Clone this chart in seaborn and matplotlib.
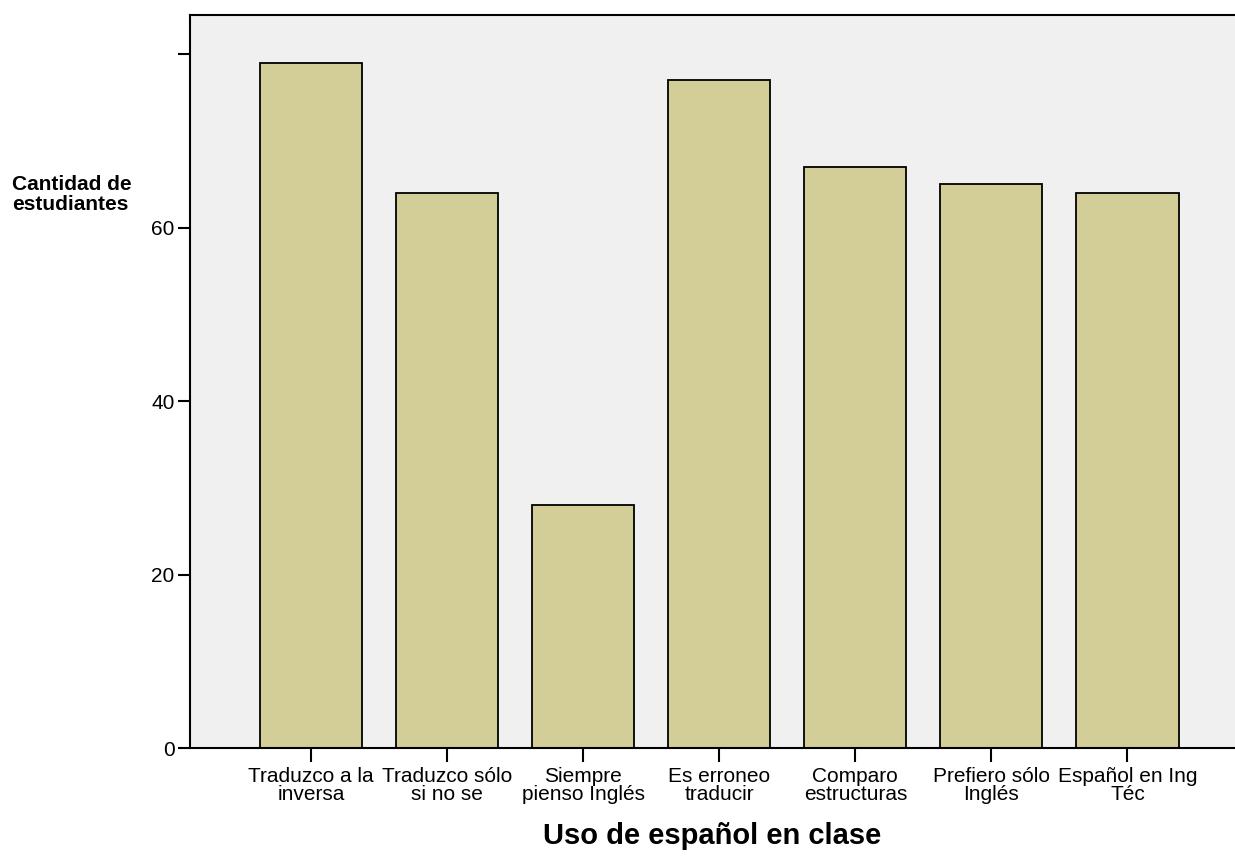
import matplotlib
matplotlib.use("Agg")
import matplotlib.pyplot as plt
import seaborn as sns
import pandas as pd

categories = ["Traduzco a la\ninversa", "Traduzco sólo\nsi no se", "Siempre\npienso Inglés",
              "Es erroneo\ntraducir", "Comparo\nestructuras", "Prefiero sólo\nInglés",
              "Español en Ing\nTéc"]
counts = [79, 64, 28, 77, 67, 65, 64]
yticks = [0, 20, 40, 60, 80]
ytick_labels = ["0", "20", "40", "60", ""]

sns.set_theme(style="white")
plt.rcParams['font.family'] = ['Liberation Sans', 'DejaVu Sans']
plt.rcParams['text.color'] = 'black'
plt.rcParams['axes.labelcolor'] = 'black'
plt.rcParams['xtick.color'] = 'black'
plt.rcParams['ytick.color'] = 'black'

df = pd.DataFrame({"cat": categories, "n": counts})

fig = plt.figure(figsize=(12.35, 8.56), dpi=100)
ax = fig.add_axes([190/1235, 1-748/856, 1-190/1235, (748-15)/856])
ax.set_facecolor("#F0F0F0")
sns.barplot(data=df, x="cat", y="n", ax=ax, color="#D3CE97", saturation=1,
            edgecolor="black", linewidth=1.3, width=0.75)

ax.set_xlim(-0.889, 6.79)
ax.set_ylim(0, 84.5)
ax.set_yticks(yticks)
ax.set_yticklabels(ytick_labels)
ax.tick_params(axis="x", direction="out", length=10, width=1.5,
               color="black", labelcolor="black", labelsize=15, bottom=True, pad=4)
ax.tick_params(axis="y", direction="out", length=9, width=1.5,
               color="black", labelcolor="black", labelsize=15, left=True, pad=2)
for lbl in ax.get_xticklabels():
    lbl.set_linespacing(0.92)

for s in ["left", "bottom", "top"]:
    ax.spines[s].set_visible(True)
    ax.spines[s].set_color("black")
    ax.spines[s].set_linewidth(1.5)
ax.spines["right"].set_visible(False)

ax.set_xlabel("Uso de español en clase", fontsize=21, fontweight="bold", labelpad=13)
ax.set_ylabel("")
fig.text(12/1235, 1-175/856, "Cantidad de\nestudiantes", fontsize=15, fontweight="bold",
         ha="left", va="top", linespacing=1.08)

fig.savefig("out.png", dpi=100)
